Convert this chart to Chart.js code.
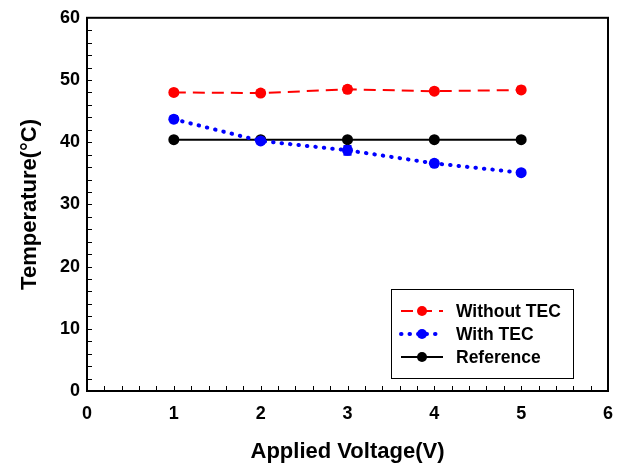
<!DOCTYPE html>
<html>
<head>
<meta charset="utf-8">
<script src="https://cdn.jsdelivr.net/npm/chart.js@4/dist/chart.umd.min.js"></script>
<style>
  html, body { margin: 0; padding: 0; background: #fff; }
  canvas { display: block; }
</style>
</head>
<body>
<canvas id="chart" width="627" height="468"></canvas>
<script>
// --- Datos ---
const voltages = [1, 2, 3, 4, 5];
const withoutTec = [48.0, 47.9, 48.5, 48.2, 48.4];
const withoutTecErr = [0.4, 0.4, 0.5, 0.4, 0.5];
const withTec = [43.7, 40.2, 38.7, 36.6, 35.1];
const withTecErr = [0.5, 0.4, 0.7, 0.4, 0.4];
const reference = [40.4, 40.4, 40.4, 40.4, 40.4];
const referenceErr = [0, 0, 0, 0, 0];
const xTicks = [0, 1, 2, 3, 4, 5, 6];
const yTicks = [0, 10, 20, 30, 40, 50, 60];

const FONT = "'Liberation Sans', Arial, sans-serif";

function toPoints(ys) {
    return voltages.map((v, i) => ({ x: v, y: ys[i] }));
}

// barras de error + marco + marcas menores hacia dentro + leyenda
const framePlugin = {
    id: 'framePlugin',
    beforeDatasetsDraw(chart) {
        const ctx = chart.ctx;
        const xs = chart.scales.x, ys = chart.scales.y;
        const errs = [withoutTecErr, withTecErr, referenceErr];
        ctx.save();
        chart.data.datasets.forEach((ds, di) => {
            ctx.strokeStyle = ds.borderColor;
            ctx.lineWidth = 2;
            ctx.setLineDash([]);
            ds.data.forEach((p, i) => {
                const e = errs[di][i];
                if (!e) return;
                const px = xs.getPixelForValue(p.x);
                const y1 = ys.getPixelForValue(p.y - e);
                const y2 = ys.getPixelForValue(p.y + e);
                ctx.beginPath();
                ctx.moveTo(px, y1); ctx.lineTo(px, y2);
                ctx.moveTo(px - 4, y1); ctx.lineTo(px + 4, y1);
                ctx.moveTo(px - 4, y2); ctx.lineTo(px + 4, y2);
                ctx.stroke();
            });
        });
        ctx.restore();
    },
    afterDraw(chart) {
        const ctx = chart.ctx;
        const a = chart.chartArea;
        const xs = chart.scales.x, ys = chart.scales.y;
        ctx.save();
        ctx.strokeStyle = '#000';
        ctx.lineWidth = 1;
        ctx.beginPath();
        for (let v = 0.2; v < 6; v += 0.2) {
            const px = Math.round(xs.getPixelForValue(v)) + 0.5;
            ctx.moveTo(px, a.bottom); ctx.lineTo(px, a.bottom - 5);
        }
        for (let v = 2; v < 60; v += 2) {
            const py = Math.round(ys.getPixelForValue(v)) + 0.5;
            ctx.moveTo(a.left, py); ctx.lineTo(a.left + 5, py);
        }
        ctx.stroke();

        ctx.lineWidth = 2;
        ctx.strokeRect(a.left, a.top, a.right - a.left, a.bottom - a.top);

        // leyenda
        const bx = 391, by = 289, bw = 182, bh = 89;
        ctx.lineWidth = 1;
        ctx.strokeRect(bx + 0.5, by + 0.5, bw, bh);
        ctx.font = 'bold 17.5px ' + FONT;
        ctx.textBaseline = 'middle';
        chart.data.datasets.forEach((ds, i) => {
            const cy = by + 22 + i * 23;
            ctx.strokeStyle = ds.borderColor;
            ctx.lineWidth = ds.borderWidth;
            ctx.lineCap = ds.borderCapStyle || 'butt';
            ctx.setLineDash(ds.borderDash || []);
            ctx.beginPath();
            ctx.moveTo(bx + 10, cy); ctx.lineTo(bx + 52, cy);
            ctx.stroke();
            ctx.setLineDash([]);
            ctx.fillStyle = ds.borderColor;
            ctx.beginPath();
            ctx.arc(bx + 31, cy, 5, 0, Math.PI * 2);
            ctx.fill();
            ctx.fillStyle = '#000';
            ctx.fillText(ds.label, bx + 65, cy + 1);
        });
        ctx.restore();
    }
};

new Chart(document.getElementById('chart'), {
    type: 'line',
    data: {
        datasets: [
            {
                label: 'Without TEC',
                data: toPoints(withoutTec),
                borderColor: '#ff0000',
                backgroundColor: '#ff0000',
                borderWidth: 2,
                borderDash: [12, 7],
                pointRadius: 5.5,
                pointBorderWidth: 0
            },
            {
                label: 'With TEC',
                data: toPoints(withTec),
                borderColor: '#0000ff',
                backgroundColor: '#0000ff',
                borderWidth: 4,
                borderDash: [0.5, 8],
                borderCapStyle: 'round',
                pointRadius: 5.5,
                pointBorderWidth: 0
            },
            {
                label: 'Reference',
                data: toPoints(reference),
                borderColor: '#000000',
                backgroundColor: '#000000',
                borderWidth: 2,
                pointRadius: 5.5,
                pointBorderWidth: 0
            }
        ]
    },
    options: {
        responsive: false,
        animation: false,
        layout: { padding: { top: 15, right: 19, left: 0, bottom: 0 } },
        plugins: { legend: { display: false }, tooltip: { enabled: false } },
        scales: {
            x: {
                type: 'linear',
                min: 0, max: 6,
                afterBuildTicks: (s) => { s.ticks = xTicks.map(v => ({ value: v })); },
                afterFit: (s) => { s.height = 77; },
                grid: { display: false, drawTicks: false },
                border: { display: false },
                ticks: { color: '#000', padding: 12, font: { family: FONT, size: 18, weight: 'bold' } },
                title: {
                    display: true, text: 'Applied Voltage(V)', color: '#000',
                    padding: { top: 0, bottom: 3 },
                    font: { family: FONT, size: 22, weight: 'bold' }
                }
            },
            y: {
                min: 0, max: 60,
                afterBuildTicks: (s) => { s.ticks = yTicks.map(v => ({ value: v })); },
                afterFit: (s) => { s.width = 87; },
                grid: { display: false, drawTicks: false },
                border: { display: false },
                ticks: { color: '#000', padding: 7, font: { family: FONT, size: 18, weight: 'bold' } },
                title: {
                    display: true, text: 'Temperature(°C)', color: '#000',
                    padding: { top: 17, bottom: 0 },
                    font: { family: FONT, size: 22, weight: 'bold' }
                }
            }
        }
    },
    plugins: [framePlugin]
});
</script>
</body>
</html>
